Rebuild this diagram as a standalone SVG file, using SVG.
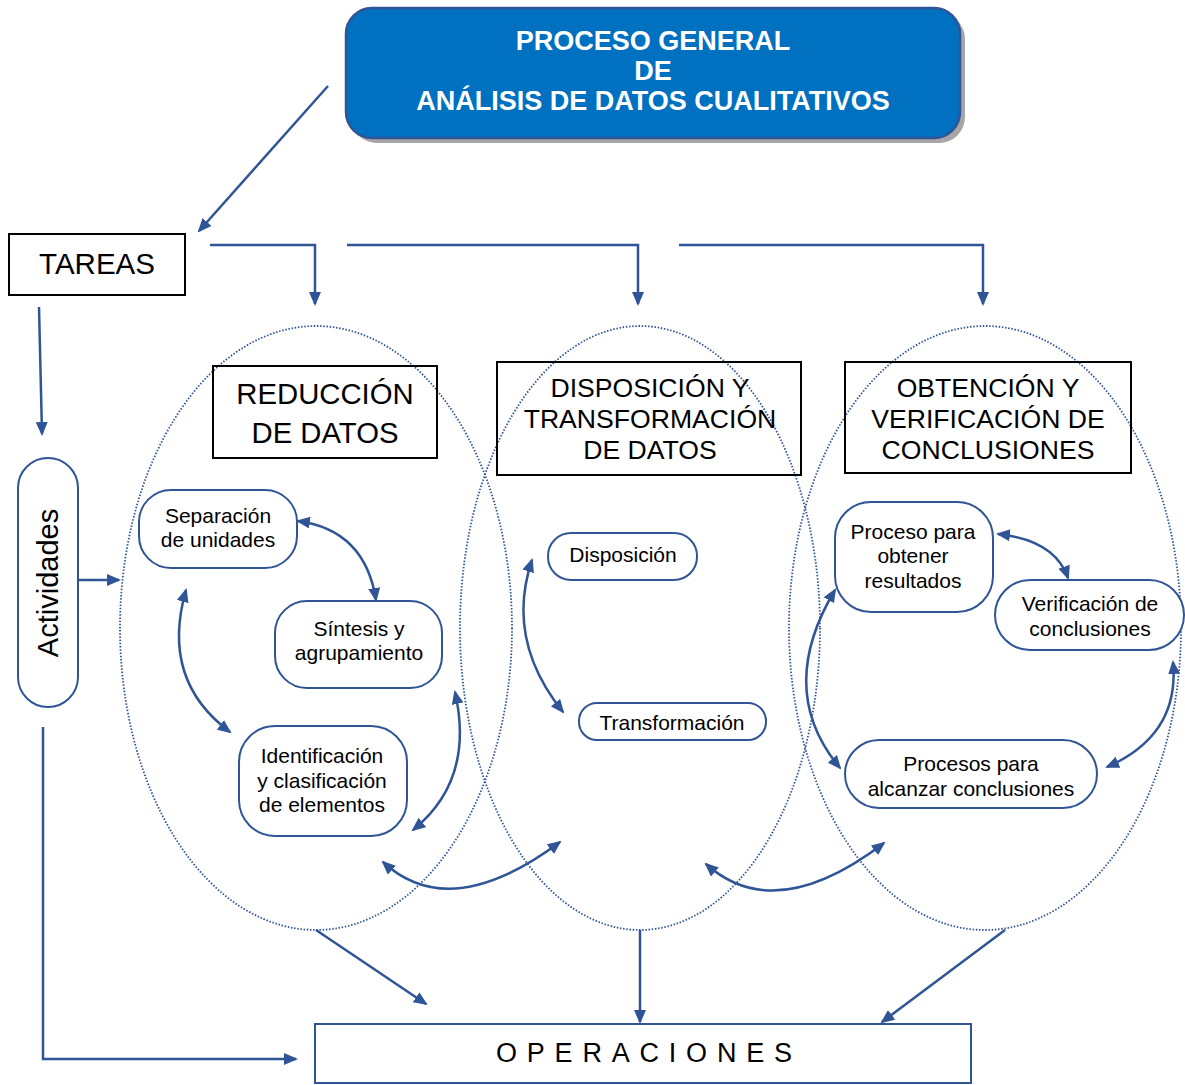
<svg xmlns="http://www.w3.org/2000/svg" width="1185" height="1085" viewBox="0 0 1185 1085">
  <style>
    .conn { fill: none; stroke: #2F5597; stroke-width: 2.5; }
    .oval { fill: none; stroke: #2F5597; stroke-width: 1.8; stroke-dasharray: 1.5 1.7; }
    .pill { fill: #fff; stroke: #2F5597; stroke-width: 2; }
    .box { fill: none; stroke: #000; stroke-width: 2; }
    .t { font-family: "Liberation Sans", Arial, sans-serif; fill: #000; text-anchor: middle; }
    .small { font-size: 21px; }
    .big { font-size: 26.6px; }
    .title { font-family: "Liberation Sans", Arial, sans-serif; font-weight: bold; font-size: 27px; fill: #fff; text-anchor: middle; }
  </style>
  <defs>
    <marker id="ah" viewBox="0 0 14 12" markerWidth="14" markerHeight="12" refX="12" refY="6" orient="auto-start-reverse" markerUnits="userSpaceOnUse">
      <path d="M0,0 L14,6 L0,12 z" fill="#2F5597"/>
    </marker>
  </defs>

  <rect width="1185" height="1085" fill="#fff"/>

  <!-- dotted stage ovals -->
  <g id="ovals">
    <ellipse class="oval" cx="316" cy="628" rx="196" ry="302"/>
    <ellipse class="oval" cx="640" cy="628" rx="180" ry="302"/>
    <ellipse class="oval" cx="985" cy="628" rx="196" ry="302"/>
  </g>

  <!-- title -->
  <g id="title">
    <rect x="351" y="13" width="614" height="130" rx="26" fill="#A6A6A6"/>
    <rect x="346" y="8" width="614" height="130" rx="26" fill="#0070C0" stroke="#2F5597" stroke-width="2.5"/>
    <text class="title" x="653" y="50">PROCESO GENERAL</text>
    <text class="title" x="653" y="80">DE</text>
    <text class="title" x="653" y="110">ANÁLISIS DE DATOS CUALITATIVOS</text>
  </g>

  <g id="tareas">
    <rect class="box" x="9" y="234" width="176" height="61"/>
    <text class="t" x="97" y="274" font-size="29.5">TAREAS</text>
  </g>

  <g id="actividades">
    <rect class="pill" x="18" y="458" width="60" height="249" rx="30"/>
    <text class="t" font-size="29" transform="translate(58 583) rotate(-90)">Actividades</text>
  </g>

  <g id="reduccion">
    <rect class="box" x="213" y="366" width="224" height="92"/>
    <text class="t" x="325" y="404" font-size="29.3">REDUCCIÓN</text>
    <text class="t" x="325" y="443" font-size="29.3">DE DATOS</text>
  </g>

  <g id="disposicion-transformacion">
    <rect class="box" x="497" y="362" width="304" height="113"/>
    <text class="t big" x="650" y="397">DISPOSICIÓN Y</text>
    <text class="t big" x="650" y="428">TRANSFORMACIÓN</text>
    <text class="t big" x="650" y="459">DE DATOS</text>
  </g>

  <g id="obtencion-verificacion">
    <rect class="box" x="845" y="362" width="286" height="111"/>
    <text class="t big" x="988" y="397">OBTENCIÓN Y</text>
    <text class="t big" x="988" y="428">VERIFICACIÓN DE</text>
    <text class="t big" x="988" y="459">CONCLUSIONES</text>
  </g>

  <g id="separacion">
    <rect class="pill" x="139" y="490" width="158" height="78" rx="32"/>
    <text class="t small" x="218" y="523">Separación</text>
    <text class="t small" x="218" y="547">de unidades</text>
  </g>

  <g id="sintesis">
    <rect class="pill" x="275" y="601" width="167" height="87" rx="32"/>
    <text class="t small" x="359" y="636">Síntesis y</text>
    <text class="t small" x="359" y="660">agrupamiento</text>
  </g>

  <g id="identificacion">
    <rect class="pill" x="239" y="726" width="168" height="110" rx="36"/>
    <text class="t small" x="322" y="763">Identificación</text>
    <text class="t small" x="322" y="788">y clasificación</text>
    <text class="t small" x="322" y="812">de elementos</text>
  </g>

  <g id="disposicion">
    <rect class="pill" x="548" y="533" width="149" height="47" rx="23"/>
    <text class="t small" x="623" y="562">Disposición</text>
  </g>

  <g id="transformacion">
    <rect class="pill" x="579" y="703" width="187" height="37" rx="18"/>
    <text class="t small" x="672" y="730">Transformación</text>
  </g>

  <g id="obtener-resultados">
    <rect class="pill" x="835" y="502" width="158" height="110" rx="36"/>
    <text class="t small" x="913" y="539">Proceso para</text>
    <text class="t small" x="913" y="563">obtener</text>
    <text class="t small" x="913" y="588">resultados</text>
  </g>

  <g id="verificacion">
    <rect class="pill" x="995" y="580" width="189" height="70" rx="35"/>
    <text class="t small" x="1090" y="611">Verificación de</text>
    <text class="t small" x="1090" y="636">conclusiones</text>
  </g>

  <g id="alcanzar-conclusiones">
    <rect class="pill" x="845" y="740" width="252" height="68" rx="34"/>
    <text class="t small" x="971" y="771">Procesos para</text>
    <text class="t small" x="971" y="796">alcanzar conclusiones</text>
  </g>

  <g id="operaciones">
    <rect x="315" y="1024" width="656" height="59" fill="#fff" stroke="#2F5597" stroke-width="2"/>
    <text class="t" x="496" y="1062" font-size="27" style="text-anchor:start" textLength="296" lengthAdjust="spacing">OPERACIONES</text>
  </g>

  <!-- connectors -->
  <g id="connectors">
    <path class="conn" d="M328 86 L199 231" marker-end="url(#ah)"/>
    <path class="conn" d="M210 245 L315 245 L315 304" marker-end="url(#ah)"/>
    <path class="conn" d="M347 245 L638 245 L638 304" marker-end="url(#ah)"/>
    <path class="conn" d="M679 245 L983 245 L983 304" marker-end="url(#ah)"/>
    <path class="conn" d="M39 307 L42 434" marker-end="url(#ah)"/>
    <path class="conn" d="M79 580 L119 580" marker-end="url(#ah)"/>
    <path class="conn" d="M43 727 L43 1059 L296 1059" marker-end="url(#ah)"/>
    <path class="conn" d="M316 930 L426 1004" marker-end="url(#ah)"/>
    <path class="conn" d="M640 930 L640 1022" marker-end="url(#ah)"/>
    <path class="conn" d="M1005 930 L882 1022" marker-end="url(#ah)"/>

    <path class="conn" d="M298 521 Q365 530 376 600" marker-start="url(#ah)" marker-end="url(#ah)"/>
    <path class="conn" d="M186 590 Q160 680 230 732" marker-start="url(#ah)" marker-end="url(#ah)"/>
    <path class="conn" d="M455 692 Q475 780 413 830" marker-start="url(#ah)" marker-end="url(#ah)"/>
    <path class="conn" d="M532 560 Q505 640 563 712" marker-start="url(#ah)" marker-end="url(#ah)"/>
    <path class="conn" d="M383 862 Q450 924 560 842" marker-start="url(#ah)" marker-end="url(#ah)"/>
    <path class="conn" d="M706 864 Q775 926 884 843" marker-start="url(#ah)" marker-end="url(#ah)"/>
    <path class="conn" d="M998 534 Q1055 540 1068 578" marker-start="url(#ah)" marker-end="url(#ah)"/>
    <path class="conn" d="M835 590 Q775 690 840 768" marker-start="url(#ah)" marker-end="url(#ah)"/>
    <path class="conn" d="M1173 662 Q1180 735 1107 767" marker-start="url(#ah)" marker-end="url(#ah)"/>
  </g>
</svg>
